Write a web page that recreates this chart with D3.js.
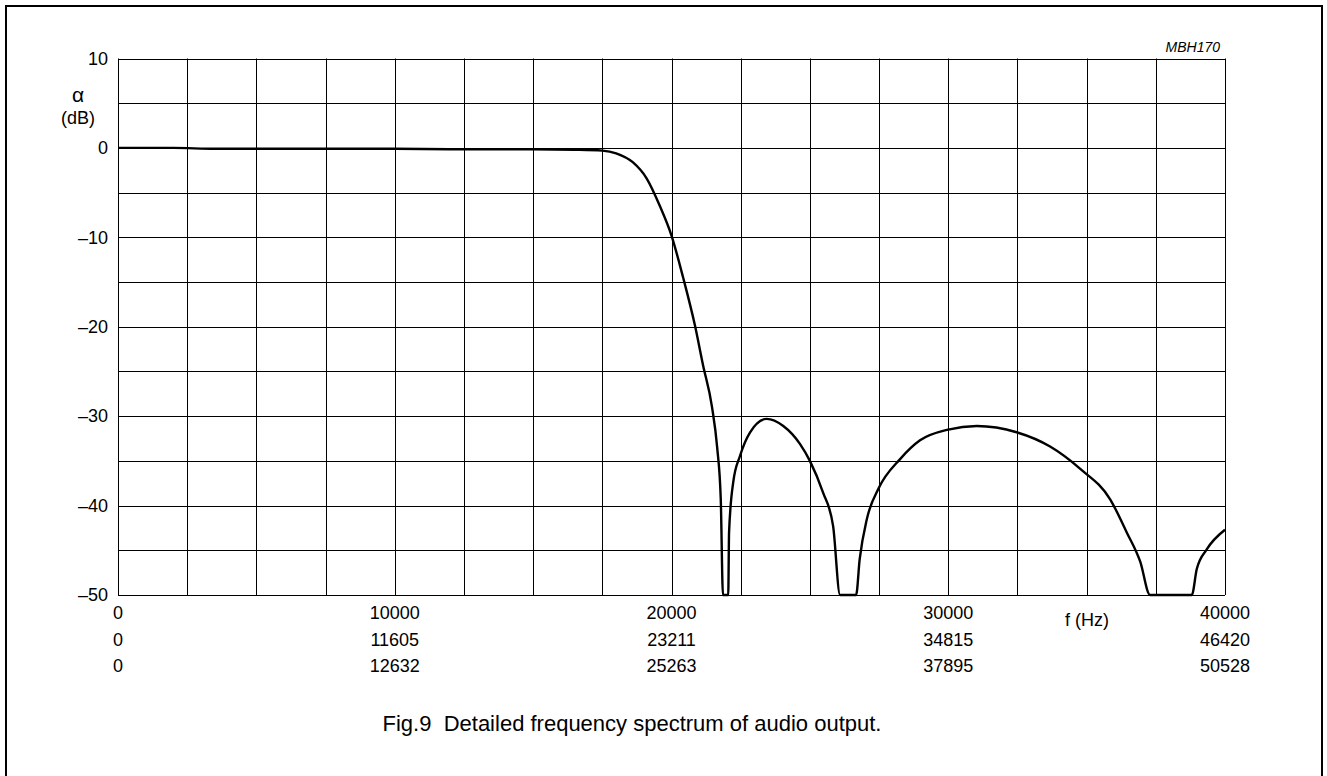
<!DOCTYPE html>
<html lang="en">
<head>
<meta charset="utf-8">
<title>Fig.9 Detailed frequency spectrum of audio output</title>
<script src="https://cdn.jsdelivr.net/npm/d3@7"></script>
<style>
  body { margin: 0; background: #fff; }
  svg text { font-family: "Liberation Sans", Arial, sans-serif; fill: #000; }
</style>
</head>
<body>
<svg id="chart" width="1327" height="776"></svg>
<script>
// frequency axis (Hz) and the two extra scale rows under it
var xTicks = [0, 10000, 20000, 30000, 40000];
var xRow2 = ["0", "11605", "23211", "34815", "46420"];
var xRow3 = ["0", "12632", "25263", "37895", "50528"];
var yTicks = [10, 0, -10, -20, -30, -40, -50];

// curve: frequency (Hz) and attenuation (dB)
var freq = [0, 2000, 3500, 6000, 10000, 12000, 15000, 16500, 17500, 18000, 18600, 19100, 19580, 20000,
  20420, 20850, 21140, 21460, 21650, 21780, 21860, 22050, 22080, 22230, 22480, 22840, 23440,
  24040, 24640, 25000, 25470, 25840, 26090, 26670, 26800, 27060, 27480, 28260, 28980, 30000,
  31030, 32470, 33680, 34770, 35850, 36450, 36940, 37290, 38800, 38980, 39340, 40000];
var dB = [0, 0, -0.1, -0.1, -0.1, -0.15, -0.15, -0.2, -0.3, -0.6, -1.6, -3.4, -6.5, -9.8,
  -14.5, -19.9, -24.3, -28.9, -33.5, -39.3, -50, -50, -43, -37.4, -34.4, -31.8, -30.3,
  -31.1, -33.1, -35, -38.5, -42.3, -50, -50, -46, -41.5, -38.1, -34.8, -32.7, -31.5,
  -31.1, -31.8, -33.4, -35.9, -39.3, -43, -46.3, -50, -50, -47.1, -44.9, -42.7];

var svg = d3.select("#chart");
// plot box (note: "top" is taken by window.top, so use other names)
var pL = 118, pR = 1225, pT = 58.5, pB = 595;

var x = d3.scaleLinear().domain([0, 40000]).range([pL, pR]);
var y = d3.scaleLinear().domain([-50, 10]).range([pB, pT]);

// outer frame
svg.append("rect").attr("x", 6).attr("y", 6).attr("width", 1316).attr("height", 800)
  .attr("fill", "none").attr("stroke", "#000").attr("stroke-width", 2);

// grid every 2500 Hz and every 5 dB
svg.append("g").selectAll("line").data(d3.range(0, 40001, 2500)).enter().append("line")
  .attr("x1", function(d) { return Math.round(x(d)) + 0.5; })
  .attr("x2", function(d) { return Math.round(x(d)) + 0.5; })
  .attr("y1", pT).attr("y2", pB)
  .attr("stroke", "#000").attr("stroke-width", 1);
svg.append("g").selectAll("line").data(d3.range(-50, 10.1, 5)).enter().append("line")
  .attr("y1", function(d) { return Math.round(y(d)) + 0.5; })
  .attr("y2", function(d) { return Math.round(y(d)) + 0.5; })
  .attr("x1", pL).attr("x2", pR)
  .attr("stroke", "#000").attr("stroke-width", 1);

// y tick labels
svg.append("g").selectAll("text").data(yTicks).enter().append("text")
  .attr("x", 108).attr("y", function(d) { return y(d); })
  .attr("dy", "0.35em").attr("text-anchor", "end").attr("font-size", 18)
  .text(function(d) { return d < 0 ? "\u2013" + Math.abs(d) : d; });

svg.append("text").attr("x", 78).attr("y", 95).attr("dy", "0.35em").attr("text-anchor", "middle")
  .attr("font-size", 21).text("\u03b1");
svg.append("text").attr("x", 78).attr("y", 118).attr("dy", "0.35em").attr("text-anchor", "middle")
  .attr("font-size", 18).text("(dB)");

// x tick labels, three rows
[xTicks.map(String), xRow2, xRow3].forEach(function(row, r) {
  svg.append("g").selectAll("text").data(row).enter().append("text")
    .attr("x", function(_, i) { return x(xTicks[i]); })
    .attr("y", 613 + r * 26.5).attr("dy", "0.35em")
    .attr("text-anchor", "middle").attr("font-size", 18)
    .text(function(d) { return d; });
});

svg.append("text").attr("x", 1087).attr("y", 620).attr("dy", "0.35em")
  .attr("text-anchor", "middle").attr("font-size", 18).text("f (Hz)");

svg.append("text").attr("x", 1220).attr("y", 52).attr("text-anchor", "end")
  .attr("font-size", 14).attr("font-style", "italic").text("MBH170");

// the response curve
var pts = freq.map(function(f, i) { return [f, dB[i]]; });
svg.append("path").datum(pts)
  .attr("fill", "none").attr("stroke", "#000").attr("stroke-width", 2.4)
  .attr("stroke-linejoin", "round")
  .attr("d", d3.line().x(function(d) { return x(d[0]); }).y(function(d) { return y(d[1]); })
    .curve(d3.curveMonotoneX));

svg.append("text").attr("x", 632).attr("y", 723).attr("dy", "0.35em")
  .attr("text-anchor", "middle").attr("font-size", 22)
  .attr("xml:space", "preserve")
  .text("Fig.9  Detailed frequency spectrum of audio output.");
</script>
</body>
</html>
